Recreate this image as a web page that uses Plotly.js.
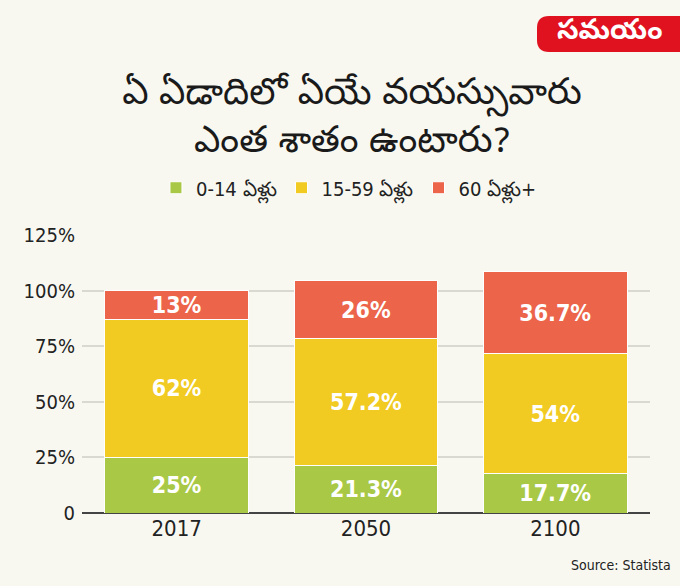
<!DOCTYPE html>
<html>
<head>
<meta charset="utf-8">
<script src="https://cdn.plot.ly/plotly-3.0.1.min.js"></script>
<style>
  html, body { margin: 0; padding: 0; background: #f8f8f1; }
  #chart { width: 680px; height: 586px; }
</style>
</head>
<body>
<div id="chart"></div>
<script>
const years = ['2017', '2050', '2100'];
const seriesNames = ['0-14 ఏళ్లు', '15-59 ఏళ్లు', '60 ఏళ్లు+'];
const age0to14 = [25, 21.3, 17.7];
const age15to59 = [62, 57.2, 54];
const age60plus = [13, 26, 36.7];
const yTickVals = [0, 25, 50, 75, 100, 125];
const yTickText = ['0', '25%', '50%', '75%', '100%', '125%'];
const colors = ['#a9c946', '#f1ca22', '#ec644a'];

const condensed = '"Liberation Sans Narrow", "DejaVu Sans Condensed", "Roboto Condensed", Roboto, sans-serif';

function mk(name, vals, color) {
  return {
    type: 'bar',
    name: name,
    x: years,
    y: vals,
    marker: { color: color, line: { color: '#ffffff', width: 1 } },
    text: vals.map(v => v + '%'),
    textposition: 'inside',
    insidetextanchor: 'middle',
    textangle: 0,
    constraintext: 'none',
    textfont: { family: condensed, size: 23, color: '#ffffff', weight: 'bold', stretch: 'condensed' },
    hoverinfo: 'none'
  };
}

const data = [
  mk(seriesNames[0], age0to14, colors[0]),
  mk(seriesNames[1], age15to59, colors[1]),
  mk(seriesNames[2], age60plus, colors[2])
];

const layout = {
  width: 680, height: 586,
  barmode: 'stack',
  bargap: 0.24,
  paper_bgcolor: '#f8f8f1',
  plot_bgcolor: '#f8f8f1',
  margin: { l: 82, r: 30, t: 235, b: 73 },
  title: {
    text: 'ఏ ఏడాదిలో ఏయే వయస్సువారు<br>ఎంత శాతం ఉంటారు?',
    font: { size: 37, color: '#1a1a1a', family: '"Noto Sans Telugu", "Noto Sans", sans-serif' },
    x: 352 / 680, xanchor: 'center',
    y: 1 - 104 / 586, yanchor: 'top', yref: 'container'
  },
  showlegend: true,
  legend: {
    orientation: 'h',
    x: 0.47, xanchor: 'center',
    y: 1.17, yanchor: 'middle',
    font: { family: condensed, size: 20, color: '#222', stretch: 'condensed' },
    traceorder: 'normal',
    itemwidth: 30,
    bgcolor: 'rgba(0,0,0,0)'
  },
  xaxis: {
    type: 'category',
    tickfont: { family: condensed, size: 22, color: '#222', stretch: 'condensed' },
    showgrid: false,
    showline: false,
    ticks: ''
  },
  yaxis: {
    range: [0, 125],
    tickvals: yTickVals,
    ticktext: yTickText,
    tickfont: { family: condensed, size: 20, color: '#222', stretch: 'condensed' },
    showgrid: true,
    gridcolor: '#d9d9d2',
    gridwidth: 2,
    zeroline: true,
    zerolinecolor: '#444',
    zerolinewidth: 1.5,
    ticks: '',
    ticklabelstandoff: 6,
    fixedrange: true
  },
  shapes: [{
    type: 'path',
    xref: 'paper', yref: 'paper',
    path: (function () {
      const x0 = (537 - 82) / 568, x1 = (700 - 82) / 568;
      const yT = (513 - 16) / 278, yB = (513 - 52) / 278;
      const rx = 12 / 568, ry = 12 / 278;
      return `M ${x0 + rx},${yT} L ${x1},${yT} L ${x1},${yB} L ${x0 + rx},${yB} Q ${x0},${yB} ${x0},${yB + ry} L ${x0},${yT - ry} Q ${x0},${yT} ${x0 + rx},${yT} Z`;
    })(),
    fillcolor: '#e0121f',
    line: { width: 0 },
    layer: 'above'
  }],
  annotations: [
    {
      text: 'సమయం',
      xref: 'paper', yref: 'paper',
      x: (610 - 82) / 568, y: (513 - 34) / 278,
      xanchor: 'center', yanchor: 'middle',
      showarrow: false,
      font: { size: 28, color: '#ffffff', family: '"Noto Sans Telugu", "Noto Sans", sans-serif', weight: 'bold' }
    },
    {
      text: 'Source: Statista',
      xref: 'paper', yref: 'paper',
      x: (673 - 82) / 568, y: (513 - 565) / 278,
      xanchor: 'right', yanchor: 'middle',
      showarrow: false,
      font: { size: 14, color: '#222', family: condensed, stretch: 'condensed' }
    }
  ]
};

Plotly.newPlot('chart', data, layout, { displayModeBar: false, staticPlot: true });
</script>
</body>
</html>
